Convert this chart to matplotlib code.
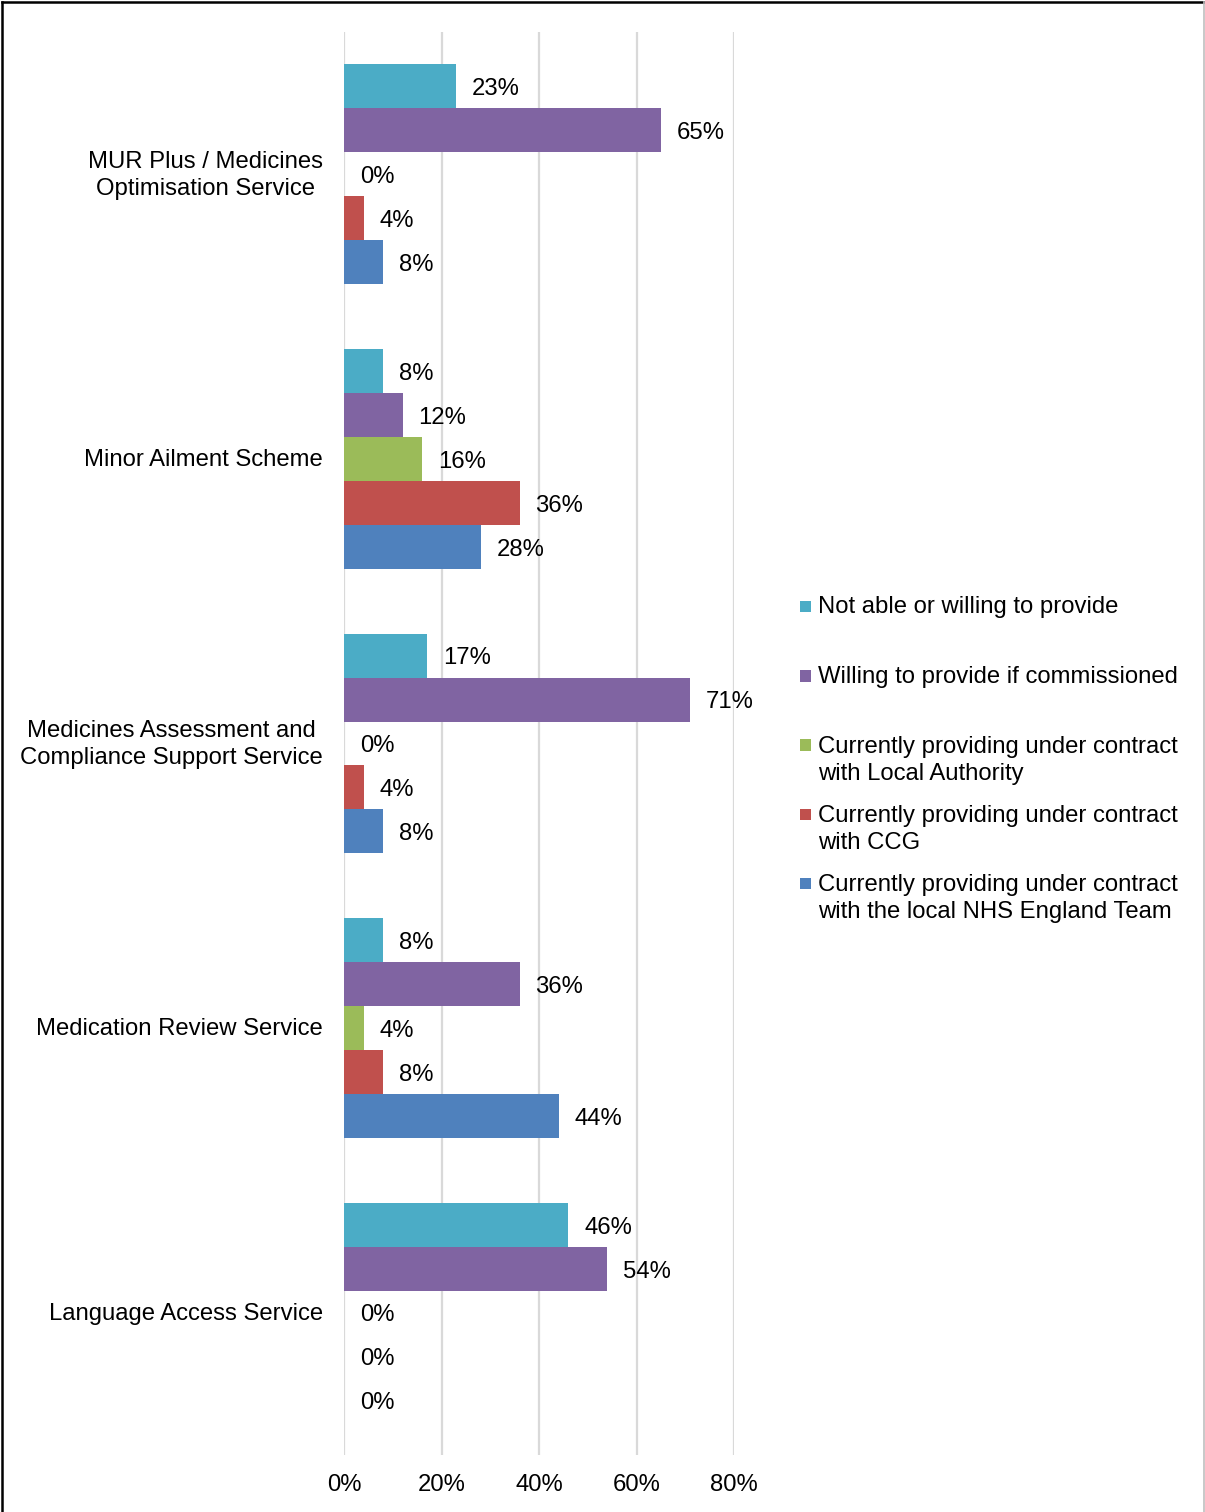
import matplotlib
matplotlib.use("Agg")
import matplotlib.pyplot as plt
from matplotlib.patches import Rectangle
from matplotlib.lines import Line2D
import matplotlib.transforms as mtransforms
import numpy as np

plt.rcParams['font.family'] = ['Liberation Sans', 'DejaVu Sans']

categories = ["MUR Plus / Medicines\nOptimisation Service",
              "Minor Ailment Scheme",
              "Medicines Assessment and\nCompliance Support Service",
              "Medication Review Service",
              "Language Access Service"]
series_names = ["Not able or willing to provide",
                "Willing to provide if commissioned",
                "Currently providing under contract\nwith Local Authority",
                "Currently providing under contract\nwith CCG",
                "Currently providing under contract\nwith the local NHS England Team"]
not_able = [23, 8, 17, 8, 46]
willing = [65, 12, 71, 36, 54]
local_authority = [0, 16, 0, 4, 0]
ccg = [4, 36, 4, 8, 0]
nhs_england = [8, 28, 8, 44, 0]
series_values = [not_able, willing, local_authority, ccg, nhs_england]
colors = ["#4BACC6", "#8064A2", "#9BBB59", "#C0504D", "#4F81BD"]
x_ticks = [0, 20, 40, 60, 80]
x_tick_labels = ["0%", "20%", "40%", "60%", "80%"]

W, H = 1205, 1512
fig = plt.figure(figsize=(W / 100, H / 100), dpi=100)
ax = fig.add_axes([344 / W, 1 - 1455 / H, (734 - 344) / W, (1455 - 32) / H])

FS = 17.2
LS = 1.32
h = 0.1544
y = np.arange(len(categories))
for j, (vals, c) in enumerate(zip(series_values, colors)):
    ypos = y + (j - 2) * h
    ax.barh(ypos, vals, height=h, color=c, edgecolor='none', zorder=3)
    for v, yy in zip(vals, ypos):
        ax.annotate(f"{v:.0f}%", xy=(v, yy), xytext=(11.5, -2),
                    textcoords='offset points', ha='left', va='center',
                    fontsize=FS, color='black')

ax.set_xlim(0, 80)
ax.set_ylim(4.5, -0.5)
ax.set_xticks(x_ticks)
ax.set_xticklabels(x_tick_labels, fontsize=FS)
ax.set_yticks(y)
ax.set_yticklabels([])
ax.tick_params(axis='both', length=0)
ax.tick_params(axis='x', pad=14)
ax.grid(axis='x', color='#D9D9D9', linewidth=1.6, zorder=0)
ax.grid(axis='y', visible=False)
for s in ax.spines.values():
    s.set_visible(False)

# category labels
for cat, yy in zip(categories, y):
    dy = -1.0
    tr = ax.get_yaxis_transform() + mtransforms.ScaledTranslation(-21 / 100, dy / 100, fig.dpi_scale_trans)
    ax.text(0, yy, cat, transform=tr, ha='right', va='center', multialignment='center',
            fontsize=FS, linespacing=LS)

# legend (manual)
sq = 11
square_centers = [606, 676, 745, 814, 883]
text_centers = [607.5, 677.5, 760.5, 829.5, 898.5]
for name, c, sc, tc in zip(series_names, colors, square_centers, text_centers):
    fig.add_artist(Rectangle((800 / W, 1 - (sc + sq / 2) / H), sq / W, sq / H,
                             transform=fig.transFigure, color=c, linewidth=0))
    fig.text(818 / W, 1 - tc / H, name, fontsize=FS, va='center', ha='left',
             linespacing=LS)

# figure border
fig.add_artist(Line2D([2 / W, 2 / W], [0, 1 - 2 / H], transform=fig.transFigure,
                      color='black', linewidth=1.8))
fig.add_artist(Line2D([2 / W, 1203.5 / W], [1 - 2 / H, 1 - 2 / H], transform=fig.transFigure,
                      color='black', linewidth=1.8))
fig.add_artist(Line2D([1204 / W, 1204 / W], [0, 1 - 2 / H], transform=fig.transFigure,
                      color='#BFBFBF', linewidth=1.2))

fig.savefig("out.png", dpi=100)
